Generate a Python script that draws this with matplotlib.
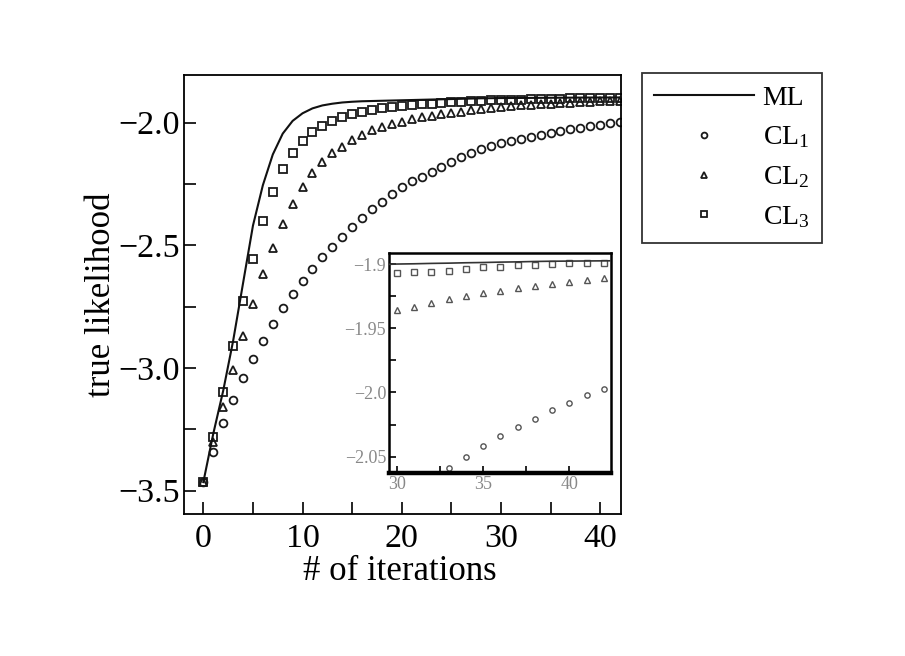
import numpy as np
import matplotlib
matplotlib.use("Agg")
import matplotlib.pyplot as plt
from matplotlib.ticker import MultipleLocator, FuncFormatter

# values
iters = list(range(0, 43))
ml_iters = list(range(0, 44))

ml = [-3.465, -3.268, -3.093, -2.890, -2.655, -2.420, -2.255, -2.130, -2.045, -1.993,
      -1.962, -1.942, -1.930, -1.923, -1.918, -1.915, -1.913, -1.912, -1.911, -1.910,
      -1.909, -1.908, -1.907, -1.906, -1.905, -1.904, -1.903, -1.902, -1.901, -1.9005,
      -1.9000, -1.8998, -1.8995, -1.8993, -1.8990, -1.8988, -1.8985, -1.8983, -1.8980,
      -1.8978, -1.8977, -1.8976, -1.8975, -1.8974]

cl1 = [-3.465, -3.341, -3.226, -3.130, -3.042, -2.965, -2.890, -2.820, -2.757, -2.700,
       -2.646, -2.595, -2.549, -2.506, -2.465, -2.424, -2.390, -2.353, -2.322, -2.291,
       -2.264, -2.240, -2.220, -2.200, -2.179, -2.159, -2.141, -2.125, -2.109, -2.096,
       -2.085, -2.075, -2.067, -2.059, -2.0505, -2.042, -2.034, -2.027, -2.021, -2.014,
       -2.008, -2.002, -1.997]

cl2 = [-3.465, -3.300, -3.158, -3.008, -2.870, -2.739, -2.618, -2.510, -2.413, -2.330,
       -2.262, -2.206, -2.161, -2.125, -2.098, -2.071, -2.050, -2.032, -2.018, -2.006,
       -1.996, -1.987, -1.979, -1.972, -1.966, -1.960, -1.955, -1.950, -1.944, -1.940,
       -1.9357, -1.9331, -1.9300, -1.9274, -1.9248, -1.9227, -1.9207, -1.9184, -1.9170,
       -1.9155, -1.9137, -1.9124, -1.9110]

cl3 = [-3.465, -3.280, -3.099, -2.910, -2.726, -2.554, -2.403, -2.284, -2.188, -2.124,
       -2.073, -2.037, -2.012, -1.992, -1.978, -1.966, -1.955, -1.948, -1.942, -1.937,
       -1.933, -1.929, -1.926, -1.923, -1.920, -1.917, -1.915, -1.913, -1.911, -1.909,
       -1.9072, -1.9064, -1.9060, -1.9052, -1.9041, -1.9026, -1.9021, -1.9010, -1.9005,
       -1.9000, -1.8995, -1.8990, -1.8990]

plt.rcParams['font.family'] = ['Liberation Serif', 'DejaVu Serif']
plt.rcParams['mathtext.fontset'] = 'custom'
plt.rcParams['mathtext.rm'] = 'Liberation Serif'
plt.rcParams['mathtext.it'] = 'Liberation Serif:italic'
plt.rcParams['axes.unicode_minus'] = True


def inset_fmt(v, pos):
    s = '%.2f' % v
    if s.endswith('0'):
        s = s[:-1]
    return s.replace('-', '\u2212')


W, H = 905, 656
fig = plt.figure(figsize=(W / 100, H / 100), dpi=100, facecolor='white')

# main axes
ax = fig.add_axes([184 / W, 1 - 514 / H, (621 - 184) / W, (514 - 75) / H])
mk = dict(linestyle='none', markersize=5.6, markeredgewidth=1.3,
          markerfacecolor='none', markeredgecolor='#1a1a1a')
ax.plot(ml_iters, ml, color='#111111', lw=1.5, label='ML', zorder=3)
ax.plot(iters, cl1, marker='o', label='CL$_1$', **mk)
ax.plot(iters, cl2, marker='^', label='CL$_2$', **mk)
ax.plot(iters, cl3, marker='s', label='CL$_3$', **mk)

ax.set_xlim(-1.95, 42.1)
ax.set_ylim(-3.595, -1.806)
ax.xaxis.set_major_locator(MultipleLocator(10))
ax.xaxis.set_minor_locator(MultipleLocator(5))
ax.yaxis.set_major_locator(MultipleLocator(0.5))
ax.yaxis.set_minor_locator(MultipleLocator(0.25))
ax.tick_params(which='both', direction='in', length=8.6, width=1.2,
               top=False, right=False, labelsize=24.5, pad=3)
ax.tick_params(axis='x', pad=7)
for s in ax.spines.values():
    s.set_linewidth(1.3)

ax.set_xlabel('# of iterations', fontsize=25)
ax.set_ylabel('true likelihood', fontsize=25)
ax.xaxis.label.set_va('center')
ax.yaxis.label.set_va('center')
ax.xaxis.set_label_coords(0.494, -0.132)
ax.yaxis.set_label_coords(-0.188, 0.5)

# inset zoom on the last iterations
ins = fig.add_axes([389 / W, 1 - 473 / H, (611 - 389) / W, (473 - 253) / H])
mk2 = dict(linestyle='none', markersize=3.8, markeredgewidth=1.0,
           markerfacecolor='none', markeredgecolor='#555555')
ins.plot(ml_iters, ml, color='#333333', lw=1.2, zorder=3)
ins.plot(iters, cl1, marker='o', **mk2)
ins.plot(iters, cl2, marker='^', **mk2)
ins.plot(iters, cl3, marker='s', **mk2)
ins.set_xlim(29.55, 42.42)
ins.set_ylim(-2.0627, -1.8914)
ins.xaxis.set_major_locator(MultipleLocator(5))
ins.xaxis.set_minor_locator(MultipleLocator(2.5))
ins.yaxis.set_major_locator(MultipleLocator(0.05))
ins.yaxis.set_minor_locator(MultipleLocator(0.025))
ins.yaxis.set_major_formatter(FuncFormatter(inset_fmt))
ins.tick_params(which='both', direction='in', length=5, width=1.2,
                top=False, right=False, labelsize=13, pad=2,
                labelcolor='#888888')
for s in ins.spines.values():
    s.set_linewidth(1.8)
ins.spines['bottom'].set_linewidth(3.2)

# legend outside, to the right of the plot
leg = fig.legend(loc='upper left', bbox_to_anchor=(641.7 / W, 1 - 72.7 / H),
                 fontsize=20, frameon=True, fancybox=False, edgecolor='black',
                 handlelength=3.6, handletextpad=0.3, borderpad=0.45,
                 labelspacing=0.5, markerscale=0.75, borderaxespad=0)
leg.get_frame().set_linewidth(1.3)

fig.savefig('out.png', dpi=100, facecolor='white')
